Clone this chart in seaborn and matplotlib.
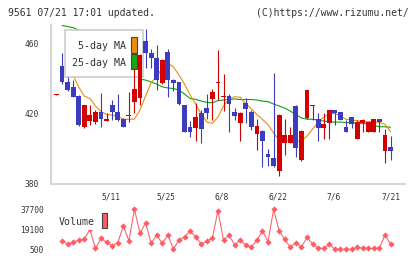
import numpy as np
import pandas as pd
import matplotlib
matplotlib.use("Agg")
import matplotlib.pyplot as plt
import seaborn as sns
from matplotlib.patches import Rectangle

# daily candles, 4/22 .. 7/21 (61 trading days)
opens = [430.7, 447.0, 438.1, 435.2, 430.0, 412.3, 415.8, 415.0, 420.6, 415.8,
         424.7, 421.0, 416.6, 418.6, 426.6, 429.0, 461.5, 454.3, 451.7, 437.6,
         454.8, 439.0, 437.7, 424.7, 412.4, 411.8, 420.0, 423.2, 428.0, 437.4,
         429.6, 430.0, 420.6, 414.6, 425.7, 420.6, 408.2, 410.0, 396.7, 394.6,
         387.2, 402.9, 402.9, 424.2, 393.3, 417.5, 424.3, 416.6, 411.8, 414.6,
         421.9, 420.6, 412.4, 417.9, 405.3, 414.3, 409.5, 409.5, 416.7, 398.5,
         400.7]
highs = [431.0, 454.3, 441.0, 439.0, 430.5, 425.0, 424.7, 422.0, 431.8, 420.0,
         427.6, 431.0, 417.5, 432.3, 446.0, 454.0, 468.0, 457.0, 459.0, 451.0,
         457.0, 439.5, 438.0, 425.0, 415.5, 425.7, 421.9, 431.0, 434.0, 456.2,
         442.3, 431.0, 423.0, 420.5, 428.5, 422.0, 416.7, 410.5, 399.6, 443.0,
         419.5, 416.7, 412.4, 424.5, 410.5, 433.5, 425.0, 420.0, 420.0, 422.0,
         422.0, 421.0, 416.2, 418.0, 416.0, 416.5, 415.0, 417.0, 417.0, 411.0,
         407.0]
lows = [430.5, 437.0, 433.0, 429.5, 413.0, 411.5, 413.3, 414.0, 412.3, 415.6,
        416.0, 415.5, 412.0, 415.3, 420.0, 425.0, 446.0, 446.0, 433.3, 437.0,
        429.5, 433.0, 425.0, 409.5, 406.6, 404.0, 403.0, 416.6, 416.2, 427.6,
        421.5, 409.5, 416.0, 404.0, 414.6, 410.5, 399.0, 389.5, 390.0, 389.5,
        384.4, 396.0, 402.9, 395.2, 393.0, 417.0, 416.2, 404.2, 405.5, 405.3,
        413.3, 416.0, 409.5, 411.8, 405.3, 409.5, 409.5, 409.5, 409.5, 391.4,
        393.3]
closes = [431.0, 437.7, 433.3, 429.5, 413.3, 424.7, 419.2, 421.0, 416.6, 416.8,
          420.6, 416.2, 412.4, 419.2, 433.7, 453.3, 454.3, 451.8, 439.0, 450.5,
          439.0, 437.5, 425.3, 409.5, 409.5, 418.0, 410.9, 420.4, 432.3, 438.0,
          430.2, 425.3, 418.6, 420.0, 422.5, 412.4, 412.7, 404.2, 395.2, 390.0,
          419.0, 407.6, 407.6, 400.3, 410.0, 433.3, 424.8, 411.8, 413.9, 421.9,
          420.0, 416.2, 409.5, 413.7, 415.2, 416.2, 414.8, 416.7, 414.8, 407.6,
          398.5]
ma5 = [np.nan, np.nan, 447.0, 441.6, 435.0, 429.9, 428.5, 424.2, 421.0, 419.4,
       419.0, 418.2, 416.6, 416.6, 416.7, 421.9, 429.9, 437.5, 441.0, 445.9,
       448.6, 446.6, 441.9, 436.7, 430.5, 425.3, 419.6, 415.0, 414.3, 417.9,
       424.2, 428.2, 429.5, 429.2, 425.3, 422.7, 419.3, 416.5, 413.6, 408.7,
       404.7, 404.5, 404.2, 403.9, 404.2, 407.0, 411.0, 415.0, 417.9, 419.6,
       420.0, 418.5, 416.6, 416.2, 415.8, 415.4, 415.2, 415.2, 414.8, 413.7,
       409.5]
ma25 = [np.nan, 470.2, 469.6, 469.0, 467.6, 465.5, 463.5, 461.0, 459.0, 456.5,
        454.0, 451.5, 449.5, 447.0, 443.5, 439.6, 439.0, 437.9, 436.7, 435.2,
        434.5, 434.2, 433.3, 431.0, 428.5, 428.0, 427.0, 426.3, 426.0, 427.3,
        427.6, 427.9, 428.2, 427.9, 427.9, 427.9, 427.6, 427.0, 426.7, 425.3,
        424.2, 423.0, 421.3, 419.3, 417.3, 416.7, 416.6, 416.2, 415.6, 415.2,
        415.0, 415.0, 414.8, 414.6, 414.4, 414.3, 413.9, 413.0, 412.4, 412.3,
        412.1]
volume = [np.nan, 8200, 5400, 7000, 9100, 9800, 19000, 1400, 10700, 7000,
          3900, 6600, 22200, 8500, 37700, 15400, 25200, 6100, 13800, 6100,
          13800, 500, 9100, 12200, 17500, 12200, 5400, 8200, 10700, 36500,
          9100, 13800, 4500, 9100, 4500, 2400, 9100, 17500, 7600, 37700,
          17500, 9800, 2400, 6600, 2400, 11700, 5400, 1400, 1400, 5100,
          500, 500, 500, 500, 2400, 1400, 1400, 1400, 1400, 13800,
          5400]
date_labels = ['5/11', '5/25', '6/8', '6/22', '7/6', '7/21']
date_idx = [9, 19, 29, 39, 49, 60]
price_ticks = [380, 420, 460]
vol_ticks = [500, 19100, 37700]

RED = '#d40000'
BLUE = '#3c3cbe'
ORANGE = '#f08a10'
GREEN = '#119e11'
VOLC = '#ff5c64'
GRID = '#d6d6d6'
TXT = '#333333'

df = pd.DataFrame({'i': np.arange(len(opens)), 'open': opens, 'high': highs,
                   'low': lows, 'close': closes, 'ma5': ma5, 'ma25': ma25,
                   'volume': volume})
df['color'] = np.where(df['close'] >= df['open'], RED, BLUE)

sns.set_style("white")
plt.rcParams['font.family'] = ['DejaVu Sans Mono']

W, H = 420, 259
def fx(px):
    return px / W
def fy(py):
    return 1 - py / H

fig = plt.figure(figsize=(4.2, 2.59), dpi=100)
ax = fig.add_axes([fx(50.7), fy(183.5), fx(405) - fx(50.7), fy(25) - fy(183.5)])
axv = fig.add_axes([fx(50.7), fy(255), fx(405) - fx(50.7), fy(203) - fy(255)])

xlo, xhi = -1.04, 62.6

# moving averages (under the legend box)
d5 = df.dropna(subset=['ma5'])
d25 = df.dropna(subset=['ma25'])
sns.lineplot(x=d25['i'], y=d25['ma25'], color=GREEN, lw=0.8, ax=ax, zorder=1.5)
sns.lineplot(x=d5['i'], y=d5['ma5'], color=ORANGE, lw=0.8, ax=ax, zorder=1.6)

# candles
ax.vlines(df['i'], df['low'], df['high'], colors=df['color'], lw=0.8, zorder=3)
body_lo = np.minimum(df['open'], df['close'])
body_h = np.maximum((df['close'] - df['open']).abs(), 0.6)
ax.bar(df['i'], body_h, bottom=body_lo, width=0.86, color=df['color'], lw=0, zorder=3.1)

ax.set_xlim(xlo, xhi)
ax.set_ylim(379.9, 470.5)
for s in ['top', 'right']:
    ax.spines[s].set_visible(False)
for s in ['left', 'bottom']:
    ax.spines[s].set_color(GRID)
    ax.spines[s].set_linewidth(1.5)
ax.set_yticks(price_ticks)
ax.set_yticklabels([str(v) for v in price_ticks])
ax.tick_params(axis='y', direction='inout', length=7, width=1.5, color=GRID,
               labelsize=5.7, labelcolor=TXT, pad=4.9)
ax.set_xticks([p + (0.75 if p < 60 else 0) for p in date_idx])
ax.set_xticklabels(date_labels)
ax.tick_params(axis='x', which='major', length=0, labelsize=5.7, labelcolor=TXT, pad=6.5)
ax.set_xticks(np.linspace(xlo, xhi, 12), minor=True)
ax.tick_params(axis='x', which='minor', direction='inout', length=6.5, width=1.5, color=GRID)
ax.set_xlabel('')
ax.set_ylabel('')

# MA legend box
ax.add_patch(Rectangle((fx(65), fy(76.7)), fx(143) - fx(65), fy(30) - fy(76.7),
                       transform=fig.transFigure, fc='white', ec='#cccccc', lw=1.2,
                       zorder=2, clip_on=False))
ax.text(fx(125.5), fy(46), '5-day MA', transform=fig.transFigure, ha='right',
        va='center', fontsize=7.2, color=TXT, zorder=2.2)
ax.text(fx(125.5), fy(63), '25-day MA', transform=fig.transFigure, ha='right',
        va='center', fontsize=7.2, color=TXT, zorder=2.2)
ax.add_patch(Rectangle((fx(131), fy(53.3)), fx(6.3), fy(37.3) - fy(53.3),
                       transform=fig.transFigure, fc=ORANGE, ec='#444444', lw=0.8,
                       zorder=2.3, clip_on=False))
ax.add_patch(Rectangle((fx(131), fy(69.3)), fx(6.3), fy(54.3) - fy(69.3),
                       transform=fig.transFigure, fc='#11aa11', ec='#444444', lw=0.8,
                       zorder=2.3, clip_on=False))

# volume panel
sns.lineplot(x=df['i'], y=df['volume'], color=VOLC, lw=0.75, marker='D',
             markersize=3.2, markeredgewidth=0, ax=axv)
axv.set_xlim(xlo, xhi)
axv.set_ylim(-4800, 43560)
for s in axv.spines.values():
    s.set_visible(False)
axv.set_xticks([])
axv.set_yticks(vol_ticks)
axv.set_yticklabels([str(v) for v in vol_ticks])
axv.tick_params(axis='y', length=0, labelsize=5.7, labelcolor=TXT, pad=4.9)
axv.set_xlabel('')
axv.set_ylabel('')
axv.text(fx(58.3), fy(222), 'Volume', transform=fig.transFigure, va='center',
         fontsize=7.1, color=TXT, zorder=5,
         bbox=dict(fc='white', ec='none', pad=2.5))
axv.add_patch(Rectangle((fx(101.7), fy(228.3)), fx(5.6), fy(212.7) - fy(228.3),
                        transform=fig.transFigure, fc=VOLC, ec='#444444', lw=0.8,
                        zorder=6, clip_on=False))

fig.text(fx(8.3), fy(12.5), '9561 07/21 17:01 updated.', fontsize=7.0,
         color=TXT, va='center')
fig.text(fx(409), fy(12.5), '(C)https://www.rizumu.net/', fontsize=7.0,
         color=TXT, va='center', ha='right')

fig.savefig('out.png', dpi=100)
